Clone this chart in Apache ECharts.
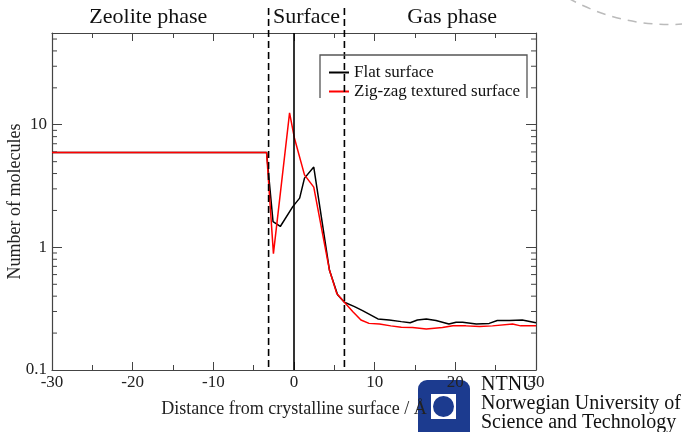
<!DOCTYPE html>
<html>
<head>
    <meta charset="UTF-8">
    <title>Number of molecules vs distance</title>
    <script src="https://cdn.jsdelivr.net/npm/echarts@6/dist/echarts.min.js"></script>
    <style>
        html, body { margin: 0; padding: 0; background: #fff; }
        #main { width: 682px; height: 432px; }
    </style>
</head>
<body>
<div id="main"></div>
<script type="text/javascript">
    // 平面表面 (Flat surface): [distance / Å, number of molecules]
    var flatData = [
        [-30, 5.95], [-20, 5.95], [-10, 5.95], [-3.4, 5.95],
        [-2.6, 1.62], [-1.7, 1.48], [-0.15, 2.15], [0.7, 2.52], [1.3, 3.67], [2.45, 4.52],
        [4.4, 0.65], [5.4, 0.41], [6.25, 0.357], [7.5, 0.329], [8.5, 0.305],
        [10.4, 0.261], [11.8, 0.256], [13.3, 0.248], [14.4, 0.243], [15.3, 0.256],
        [16.4, 0.261], [17.6, 0.253], [19.2, 0.237], [20.1, 0.245], [20.9, 0.245],
        [22.6, 0.237], [24.2, 0.240], [25.2, 0.253], [26.7, 0.253], [28.3, 0.256], [30, 0.243]
    ];
    // 锯齿表面 (Zig-zag textured surface)
    var zigzagData = [
        [-30, 5.95], [-20, 5.95], [-10, 5.95], [-3.4, 5.95],
        [-2.55, 0.89], [-0.55, 12.5], [0.05, 7.8], [1.3, 3.9], [2.45, 3.1],
        [4.4, 0.65], [5.3, 0.42], [6.25, 0.357], [7.3, 0.299], [8.3, 0.256],
        [9.3, 0.240], [10.6, 0.237], [12.0, 0.229], [13.3, 0.223], [14.7, 0.222],
        [16.4, 0.216], [18.4, 0.222], [19.7, 0.230], [21.3, 0.229], [23.0, 0.226],
        [24.6, 0.229], [27.1, 0.237], [28.1, 0.229], [30, 0.229]
    ];
    var seriesNames = ['Flat surface', 'Zig-zag textured surface'];
    // 相界面位置
    var boundaryLeft = -3.15;
    var boundaryRight = 6.25;
    var surfacePos = 0;
    var phaseNames = ['Zeolite phase', 'Surface', 'Gas phase'];
    // 对数轴次刻度
    var yMinorTicks = [0.2, 0.3, 0.4, 0.5, 0.6, 0.7, 0.8, 0.9,
        2, 3, 4, 5, 6, 7, 8, 9, 20, 30, 40, 50];
    var xMin = -30, xMax = 30, yMin = 0.1, yMax = 56;

    var serif = '"Liberation Serif", "DejaVu Serif", serif';
    var axisColor = '#444';

    var myChart = echarts.init(document.getElementById('main'));

    var xAxisBase = {
        type: 'value',
        min: xMin,
        max: xMax,
        interval: 10,
        axisLine: { onZero: false, lineStyle: { color: axisColor, width: 1.2 } },
        axisTick: { inside: true, length: 8, lineStyle: { color: axisColor } },
        minorTick: { show: true, splitNumber: 2, length: 5, lineStyle: { color: axisColor } },
        splitLine: { show: false }
    };
    var yAxisBase = {
        type: 'log',
        logBase: 10,
        min: yMin,
        max: yMax,
        axisLine: { show: true, onZero: false, lineStyle: { color: axisColor, width: 1.2 } },
        axisTick: { inside: true, length: 10, lineStyle: { color: axisColor } },
        splitLine: { show: false }
    };

    myChart.setOption({
        backgroundColor: '#fff',
        animation: false,
        grid: { left: 52, right: 146, top: 33, bottom: 62, outerBoundsMode: 'none', containLabel: false },
        legend: {
            data: seriesNames,
            orient: 'vertical',
            left: 324,
            top: 59,
            itemWidth: 20,
            itemHeight: 2,
            itemGap: 2,
            icon: 'rect',
            textStyle: { fontFamily: serif, fontSize: 17, color: '#111' }
        },
        xAxis: [
            echarts.util.merge({
                position: 'bottom',
                name: 'Distance from crystalline surface / Å',
                nameLocation: 'middle',
                nameGap: 30,
                nameMoveOverlap: false,
                nameTextStyle: { fontFamily: serif, fontSize: 18, color: '#222' },
                axisLabel: { fontFamily: serif, fontSize: 17, color: '#222', margin: 4 }
            }, xAxisBase, true),
            echarts.util.merge({
                position: 'top',
                axisLabel: { show: false }
            }, xAxisBase, true)
        ],
        yAxis: [
            echarts.util.merge({
                position: 'left',
                name: 'Number of molecules',
                nameLocation: 'middle',
                nameGap: 28,
                nameMoveOverlap: false,
                nameTextStyle: { fontFamily: serif, fontSize: 18, color: '#222' },
                axisLabel: {
                    fontFamily: serif, fontSize: 17, color: '#222', margin: 5,
                    showMaxLabel: false,
                    formatter: function (v) { return String(v); }
                }
            }, yAxisBase, true),
            echarts.util.merge({
                position: 'right',
                axisLabel: { show: false }
            }, yAxisBase, true)
        ],
        series: [
            {
                name: seriesNames[0],
                type: 'line',
                data: flatData,
                showSymbol: false,
                lineStyle: { color: '#000', width: 1.5 },
                itemStyle: { color: '#000' },
                markLine: {
                    silent: true,
                    symbol: 'none',
                    label: { show: false },
                    lineStyle: { color: '#000', type: 'solid', width: 1.6 },
                    data: [{ xAxis: surfacePos }]
                }
            },
            {
                name: seriesNames[1],
                type: 'line',
                data: zigzagData,
                showSymbol: false,
                lineStyle: { color: '#ff0000', width: 1.5 },
                itemStyle: { color: '#ff0000' }
            },
            {
                // 对数次刻度，左右两侧
                type: 'custom',
                silent: true,
                data: yMinorTicks.map(function (v) { return [xMin, v]; }),
                encode: { x: 0, y: 1 },
                renderItem: function (params, api) {
                    var v = api.value(1);
                    var p = api.coord([xMin, v]);
                    var q = api.coord([xMax, v]);
                    var st = { stroke: axisColor, lineWidth: 1 };
                    return {
                        type: 'group',
                        children: [
                            { type: 'line', shape: { x1: p[0], y1: p[1], x2: p[0] + 5, y2: p[1] }, style: st },
                            { type: 'line', shape: { x1: q[0] - 5, y1: q[1], x2: q[0], y2: q[1] }, style: st }
                        ]
                    };
                },
                z: 1
            }
        ]
    });

    // 相界线与标签，用坐标轴换算像素位置
    var xl = myChart.convertToPixel({ xAxisIndex: 0 }, boundaryLeft);
    var xr = myChart.convertToPixel({ xAxisIndex: 0 }, boundaryRight);
    var x0 = myChart.convertToPixel({ xAxisIndex: 0 }, xMin);
    var x1 = myChart.convertToPixel({ xAxisIndex: 0 }, xMax);
    var yBottom = myChart.convertToPixel({ yAxisIndex: 0 }, yMin);
    var dash = { stroke: '#000', lineWidth: 1.6, lineDash: [7, 4] };
    var titleFont = '22px ' + serif;

    myChart.setOption({
        graphic: [
            { type: 'line', z: 50, shape: { x1: xl, y1: 8, x2: xl, y2: yBottom }, style: dash },
            { type: 'line', z: 50, shape: { x1: xr, y1: 8, x2: xr, y2: yBottom }, style: dash },
            {
                type: 'text', z: 50,
                x: (x0 + xl) / 2 - 12, y: 6,
                style: { text: phaseNames[0], font: titleFont, fill: '#111', textAlign: 'center' }
            },
            {
                type: 'text', z: 50,
                x: (xl + xr) / 2, y: 6,
                style: { text: phaseNames[1], font: titleFont, fill: '#111', textAlign: 'center' }
            },
            {
                type: 'text', z: 50,
                x: (xr + x1) / 2 + 12, y: 6,
                style: { text: phaseNames[2], font: titleFont, fill: '#111', textAlign: 'center' }
            },
            // 图例外框（无底边）
            {
                type: 'polyline', z: 50,
                shape: { points: [[320, 98], [320, 55], [527, 55], [527, 98]] },
                style: { stroke: '#555', lineWidth: 1.3, fill: null }
            },
            // 右上角装饰弧线
            {
                type: 'bezierCurve', z: 50,
                shape: { x1: 568, y1: -2, cpx1: 622, cpy1: 28, x2: 684, y2: 24 },
                style: { stroke: '#bbb', lineWidth: 1.5, lineDash: [9, 7], fill: null }
            },
            // NTNU 标志
            {
                type: 'group', z: 100,
                children: [
                    { type: 'rect', shape: { x: 418, y: 380, width: 52, height: 62, r: 9 }, style: { fill: '#1c3b8f' } },
                    { type: 'rect', shape: { x: 431, y: 394, width: 25, height: 25 }, style: { fill: '#fff' } },
                    { type: 'circle', shape: { cx: 443.5, cy: 406.5, r: 10.5 }, style: { fill: '#1c3b8f' } },
                    { type: 'text', x: 481, y: 375, style: { text: 'NTNU', font: '20px ' + serif, fill: '#111' } },
                    { type: 'text', x: 481, y: 394, style: { text: 'Norwegian University of', font: '20px ' + serif, fill: '#111' } },
                    { type: 'text', x: 481, y: 413, style: { text: 'Science and Technology', font: '20px ' + serif, fill: '#111' } }
                ]
            }
        ]
    });
</script>
</body>
</html>
